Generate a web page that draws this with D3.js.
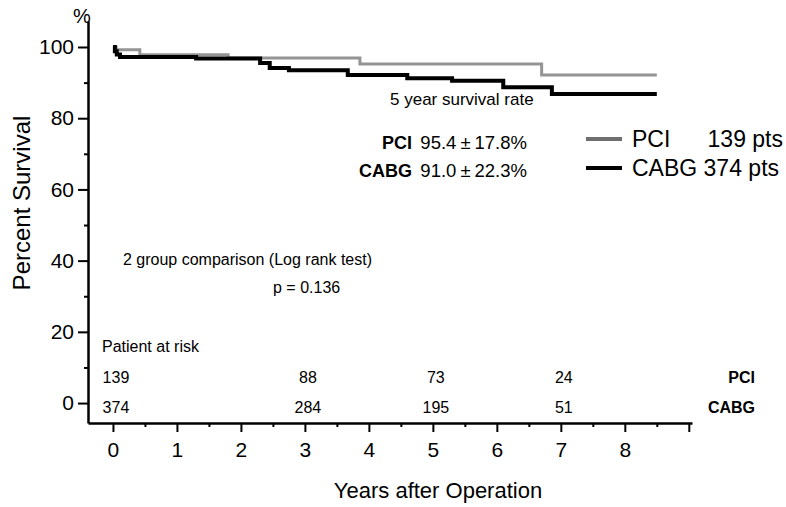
<!DOCTYPE html>
<html>
<head>
<meta charset="utf-8">
<script src="https://cdn.jsdelivr.net/npm/d3@7"></script>
<style>
  body { margin: 0; background: #fff; }
  svg { display: block; }
  text { font-family: "Liberation Sans", Arial, Helvetica, sans-serif; fill: #000; }
</style>
</head>
<body>
<div id="chart"></div>
<script>
// Kaplan-Meier steps (years, % survival)
const PCI_TIMES = [0, 0.05, 0.42, 1.8, 3.86, 6.7, 8.5];
const PCI_SURV  = [100, 99.2, 97.8, 96.9, 95.2, 92.1, 92.1];
const CABG_TIMES = [0, 0.03, 0.06, 0.11, 1.3, 2.3, 2.45, 2.75, 3.67, 4.6, 5.3, 6.1, 6.86, 8.5];
const CABG_SURV  = [100, 98.8, 97.9, 97.2, 96.8, 95.5, 94.1, 93.5, 92.1, 91.2, 90.5, 88.7, 86.8, 86.8];

const Y_TICKS = [0, 20, 40, 60, 80, 100];
const Y_MINOR = [10, 30, 50, 70, 90];
const X_TICKS = [0, 1, 2, 3, 4, 5, 6, 7, 8, 9];
const X_LABELS = ["0", "1", "2", "3", "4", "5", "6", "7", "8", ""];
const X_MINOR = [0.5, 1.5, 2.5, 3.5, 4.5, 5.5, 6.5, 7.5, 8.5];

const RISK_YEARS = [0, 3, 5, 7];
const PCI_RISK = [139, 88, 73, 24];
const CABG_RISK = [374, 284, 195, 51];

const GROUPS = ["PCI", "CABG"];
const LEGEND_LABELS = [["PCI", "139 pts"], ["CABG 374 pts", ""]];
const RATE_5Y = [["95.4", "17.8%"], ["91.0", "22.3%"]];

const W = 786, H = 507;
const svg = d3.select("#chart").append("svg")
    .attr("width", W)
    .attr("height", H);

const x = d3.scaleLinear().domain([-0.39, 9.05]).range([88, 692]);
const y = d3.scaleLinear().domain([-5.6, 107.3]).range([423, 21]);

// Axes
const yAxis = svg.append("g")
    .attr("transform", `translate(${x(-0.39)},0)`)
    .call(d3.axisLeft(y).tickValues(Y_TICKS).tickSize(10).tickSizeOuter(0).tickPadding(4));
yAxis.select(".domain").attr("stroke-width", 2.5);
yAxis.selectAll(".tick line").attr("stroke-width", 2);
yAxis.selectAll("text").style("font-size", "21px");

const yMinor = svg.append("g")
    .attr("transform", `translate(${x(-0.39)},0)`)
    .call(d3.axisLeft(y).tickValues(Y_MINOR).tickSize(4).tickFormat(""));
yMinor.select(".domain").remove();
yMinor.selectAll(".tick line").attr("stroke-width", 2);

const xAxis = svg.append("g")
    .attr("transform", `translate(0,${y(-5.6)})`)
    .call(d3.axisBottom(x).tickValues(X_TICKS).tickSize(9).tickSizeOuter(0).tickPadding(10)
        .tickFormat((d, i) => X_LABELS[i]));
xAxis.select(".domain").attr("stroke-width", 2.5);
xAxis.selectAll(".tick line").attr("stroke-width", 2);
xAxis.selectAll("text").style("font-size", "21px");

const xMinor = svg.append("g")
    .attr("transform", `translate(0,${y(-5.6)})`)
    .call(d3.axisBottom(x).tickValues(X_MINOR).tickSize(4).tickFormat(""));
xMinor.select(".domain").remove();
xMinor.selectAll(".tick line").attr("stroke-width", 2);

// Axis titles
svg.append("text")
    .attr("transform", "translate(30,203) rotate(-90)")
    .attr("text-anchor", "middle")
    .style("font-size", "24px")
    .text("Percent Survival");

svg.append("text")
    .attr("x", 82).attr("y", 23)
    .attr("text-anchor", "middle")
    .style("font-size", "20px")
    .text("%");

svg.append("text")
    .attr("x", 438).attr("y", 498)
    .attr("text-anchor", "middle")
    .style("font-size", "22px")
    .text("Years after Operation");

// Survival curves
const line = d3.line()
    .x(d => x(d.t))
    .y(d => y(d.s))
    .curve(d3.curveStepAfter);

const pciData = PCI_TIMES.map((t, i) => ({ t: t, s: PCI_SURV[i] }));
const cabgData = CABG_TIMES.map((t, i) => ({ t: t, s: CABG_SURV[i] }));

svg.append("path")
    .datum(pciData)
    .attr("fill", "none")
    .attr("stroke", "#949494")
    .attr("stroke-width", 3)
    .attr("d", line);

svg.append("path")
    .datum(cabgData)
    .attr("fill", "none")
    .attr("stroke", "#000")
    .attr("stroke-width", 4)
    .attr("d", line);

// Legend
const legendY = [139, 168];
const legendColor = ["#6f6f6f", "#000"];
GROUPS.forEach((g, i) => {
    svg.append("line")
        .attr("x1", 586).attr("x2", 622)
        .attr("y1", legendY[i]).attr("y2", legendY[i])
        .attr("stroke", legendColor[i])
        .attr("stroke-width", 4);
    svg.append("text")
        .attr("x", 632).attr("y", legendY[i] + 8)
        .style("font-size", "23px")
        .text(LEGEND_LABELS[i][0]);
    if (LEGEND_LABELS[i][1]) {
        svg.append("text")
            .attr("x", 783).attr("y", legendY[i] + 8)
            .attr("text-anchor", "end")
            .style("font-size", "23px")
            .text(LEGEND_LABELS[i][1]);
    }
});

// Annotations
svg.append("text")
    .attr("x", 390).attr("y", 105)
    .style("font-size", "17px")
    .text("5 year survival rate");

const rateY = [149, 177];
GROUPS.forEach((g, i) => {
    svg.append("text")
        .attr("x", 412).attr("y", rateY[i])
        .attr("text-anchor", "end")
        .style("font-size", "18px")
        .style("font-weight", "bold")
        .text(g);
    const t = svg.append("text")
        .attr("x", 527).attr("y", rateY[i])
        .attr("text-anchor", "end")
        .style("font-size", "18.5px");
    t.append("tspan").text(RATE_5Y[i][0]);
    t.append("tspan").attr("dx", 4).text("\u00b1");
    t.append("tspan").attr("dx", 4).text(RATE_5Y[i][1]);
});

svg.append("text")
    .attr("x", 123).attr("y", 265)
    .style("font-size", "16px")
    .text("2 group comparison (Log rank test)");

svg.append("text")
    .attr("x", 273).attr("y", 293)
    .style("font-size", "16px")
    .text("p = 0.136");

// Patients at risk table
svg.append("text")
    .attr("x", 102).attr("y", 352)
    .style("font-size", "16px")
    .text("Patient at risk");

const riskRows = [PCI_RISK, CABG_RISK];
const riskY = [383, 413];
riskRows.forEach((row, r) => {
    svg.selectAll(null)
        .data(row)
        .enter().append("text")
        .attr("x", (d, i) => x(RISK_YEARS[i]) + 3)
        .attr("y", riskY[r])
        .attr("text-anchor", "middle")
        .style("font-size", "16px")
        .text(d => d);
    svg.append("text")
        .attr("x", 755).attr("y", riskY[r])
        .attr("text-anchor", "end")
        .style("font-size", "16px")
        .style("font-weight", "bold")
        .text(GROUPS[r]);
});
</script>
</body>
</html>
